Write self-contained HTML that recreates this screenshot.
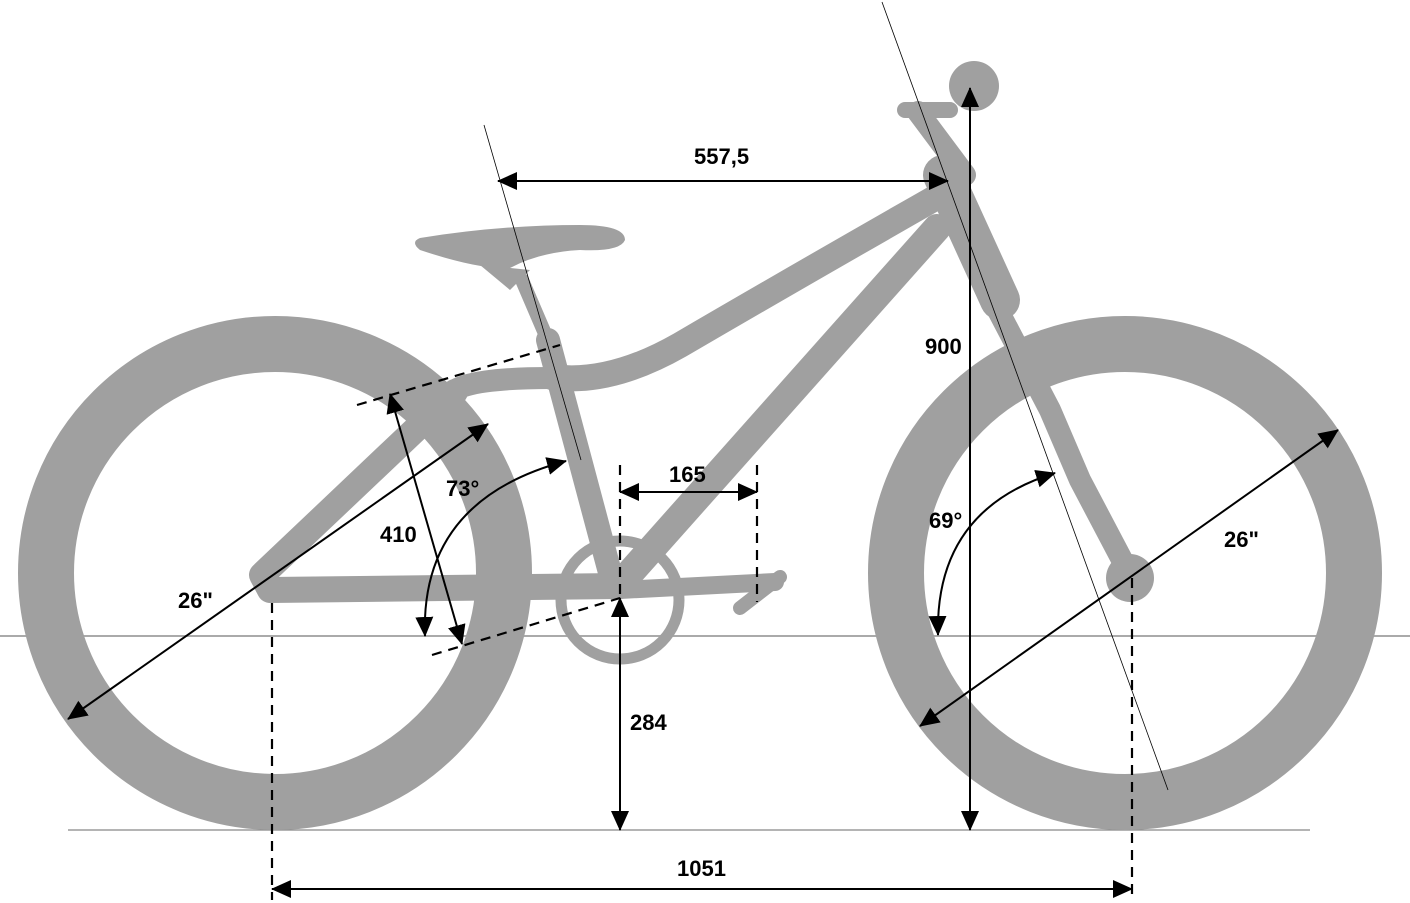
<!DOCTYPE html>
<html><head><meta charset="utf-8"><style>
html,body{margin:0;padding:0;background:#fff;}
svg{display:block;}
text{font-family:"Liberation Sans",sans-serif;font-weight:bold;font-size:22px;fill:#000;}
</style></head><body>
<svg width="1410" height="903" viewBox="0 0 1410 903" xmlns="http://www.w3.org/2000/svg">
<defs>
<marker id="a" viewBox="0 0 20 20" refX="19" refY="10" markerWidth="20" markerHeight="20" markerUnits="userSpaceOnUse" orient="auto-start-reverse">
<path d="M0,1 L20,10 L0,19 Z" fill="#000"/>
</marker>
</defs>
<line x1="0" y1="636" x2="1410" y2="636" stroke="#aaa" stroke-width="2"/>
<line x1="68" y1="830" x2="1310" y2="830" stroke="#888" stroke-width="1.2"/>
<g fill="none" stroke="#a0a0a0">
<circle cx="275" cy="573" r="229" stroke-width="56"/>
<circle cx="1125" cy="573" r="229" stroke-width="56"/>
</g>
<g fill="none" stroke="#a0a0a0" stroke-linecap="round" stroke-linejoin="round">
<path d="M455,392 L262,575 L270,590 L620,586" stroke-width="26"/>
<path d="M452,392 Q470,378 550,378" stroke-width="22"/>
<line x1="548" y1="340" x2="612" y2="580" stroke-width="24"/>
<line x1="522" y1="280" x2="552" y2="350" stroke-width="14"/>
<path d="M552,377 Q610,385 680,345 Q800,275 935,198" stroke-width="26"/>
<line x1="622" y1="582" x2="937" y2="228" stroke-width="28"/>
<line x1="943" y1="175" x2="1000" y2="300" stroke-width="40"/>
<path d="M990,295 L1050,410 L1080,480 L1130,575" stroke-width="22"/>
<line x1="918" y1="112" x2="965" y2="175" stroke-width="22"/>
<line x1="905" y1="110" x2="950" y2="110" stroke-width="16"/>
<line x1="620" y1="590" x2="775" y2="582" stroke-width="18"/>
<line x1="740" y1="608" x2="780" y2="577" stroke-width="14"/>
<circle cx="620" cy="600" r="59" stroke-width="11"/>
</g>
<circle cx="1130" cy="578" r="24" fill="#a0a0a0"/>
<circle cx="974" cy="86" r="25" fill="#a0a0a0"/>
<path d="M420,238 Q500,225 580,225 Q625,225 625,240 Q620,252 580,250 Q540,252 510,268 Q480,270 420,250 Q410,242 420,238 Z" fill="#a0a0a0"/>
<path d="M480,265 L510,290 L530,270 Z" fill="#a0a0a0"/>
<line x1="484" y1="125" x2="581" y2="460" stroke="#000" stroke-width="0.8"/>
<line x1="882" y1="2" x2="1168" y2="790" stroke="#000" stroke-width="0.8"/>
<g stroke="#000" stroke-width="2.2" stroke-dasharray="10,7" fill="none">
<line x1="272" y1="603" x2="272" y2="900"/>
<line x1="1132" y1="578" x2="1132" y2="900"/>
<line x1="620" y1="465" x2="620" y2="600"/>
<line x1="757" y1="465" x2="757" y2="602"/>
<line x1="357" y1="405" x2="560" y2="345"/>
<line x1="432" y1="655" x2="620" y2="598"/>
</g>
<g stroke="#000" stroke-width="2" fill="none" marker-start="url(#a)" marker-end="url(#a)">
<line x1="272" y1="889" x2="1132" y2="889"/>
<line x1="620" y1="598" x2="620" y2="830"/>
<line x1="970" y1="88" x2="970" y2="830"/>
<line x1="498" y1="181" x2="948" y2="181"/>
<line x1="620" y1="492" x2="757" y2="492"/>
<line x1="68" y1="719" x2="488" y2="424"/>
<line x1="920" y1="726" x2="1338" y2="430"/>
<line x1="390" y1="394" x2="462" y2="644"/>
<path d="M425,636 Q420,500 566,461"/>
<path d="M938,635 Q935,510 1055,473"/>
</g>
<text x="677" y="876">1051</text>
<text x="630" y="730">284</text>
<text x="925" y="354">900</text>
<text x="694" y="164">557,5</text>
<text x="669" y="482">165</text>
<text x="178" y="608">26"</text>
<text x="1224" y="547">26"</text>
<text x="380" y="542">410</text>
<text x="446" y="496">73°</text>
<text x="929" y="528">69°</text>
</svg>
</body></html>
